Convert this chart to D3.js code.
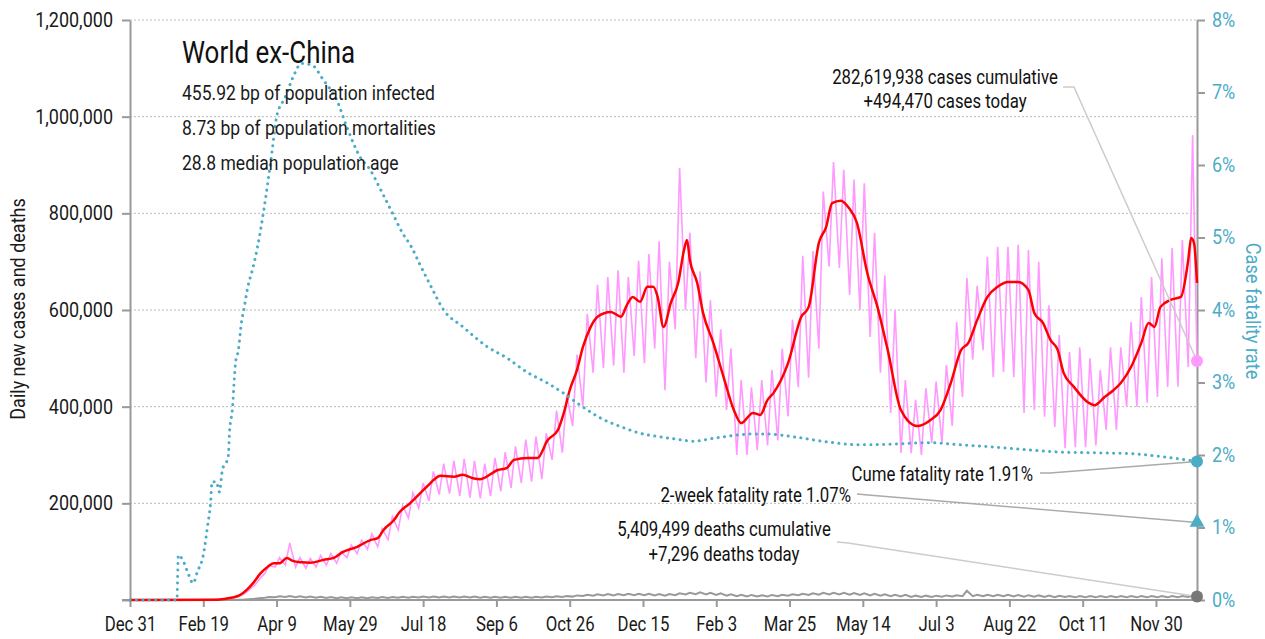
<!DOCTYPE html>
<html><head><meta charset="utf-8">
<script src="https://cdn.jsdelivr.net/npm/d3@7"></script>
<style>
body{margin:0;background:#fff;}
svg text{font-family:Roboto,"Liberation Sans",sans-serif;}
</style></head><body>
<svg id="chart" width="1265" height="639"></svg>
<script>
// ---------------- data ----------------
const startDate = new Date(2019, 11, 31);
const lastDay = 728;
const xTickDays = [0,50,100,150,200,250,300,350,400,450,500,550,600,650,700];
const leftTicks = [0,200000,400000,600000,800000,1000000,1200000];
const rightTicks = [0,1,2,3,4,5,6,7,8];

// 7-day average of daily new cases (thousands) at day offsets from Dec 31 2019
const avgDays = [0,60,64,70,75,80,84,89,94,98,102,107,111,117,123,132,139,145,155,164,169,173,180,184,191,198,205,207,212,221,227,234,239,251,257,262,271,278,285,292,296,300,305,309,314,319,328,335,339,343,348,353,357,360,364,369,374,378,380,382,387,391,398,405,412,417,425,430,435,439,449,458,463,470,475,479,485,490,496,503,510,517,526,537,546,553,560,567,572,578,585,592,599,606,613,617,623,628,633,637,644,654,658,665,671,676,683,690,695,699,703,710,717,722,724,726,728];
const avgCases = [0,0.5,2,5,10,22,35,55,69,76,76,87,81,78,77,83,87,99,110,124,128,145,165,182,200,221,242,248,257,255,259,252,250,269,273,290,294,294,331,352,387,434,476,523,563,586,596,586,610,627,617,648,648,627,565,615,656,724,745,703,656,594,532,461,393,366,387,383,414,428,490,586,606,739,772,821,826,813,780,677,606,517,393,360,372,393,449,517,532,579,627,648,658,658,641,594,573,538,517,470,441,408,403,420,434,449,482,532,573,565,606,621,627,703,749,738,656];

// daily new cases (thousands): weekly high and weekly low report, week 0..103
const weeklyHigh = [0,0,0,0.1,0.2,0.3,0.5,0.9,2,4,
  9,20,42,72,88,118,88,86,92,96,
  100,114,124,137,148,172,195,222,242,266,
  282,288,292,288,282,294,306,318,332,338,
  345,392,425,508,592,652,668,682,668,702,
  716,742,700,894,760,680,620,560,520,455,
  440,455,476,520,580,712,722,845,906,890,
  870,862,760,672,600,455,414,438,452,486,
  575,666,650,710,731,731,735,724,700,610,
  548,513,523,500,476,523,523,575,627,668,
  707,728,745,962];
const weeklyLow = [0,0,0,0,0.1,0.2,0.3,0.6,1.2,2.5,
  5,13,30,55,68,72,68,66,68,72,
  76,88,96,105,110,125,145,170,190,205,
  218,220,215,212,210,215,225,232,242,245,
  250,290,305,360,400,470,480,485,470,505,
  490,520,434,560,600,500,450,420,393,300,
  300,310,320,330,380,440,460,520,690,687,
  631,600,544,470,387,304,304,300,325,325,
  360,420,497,517,461,472,461,387,393,379,
  358,314,316,316,320,352,352,400,400,408,
  420,441,441,482];
const lastDayCases = 494.47;

// daily deaths (thousands): weekly high and low
const deathsHigh = [0,0,0,0,0,0,0,0,0,0.1,
  0.5,1.5,3.5,6,7.5,8,7.5,7,6.5,6,
  5.5,5.5,5.5,5.5,6,6,6.5,6.5,7,7,
  7,7,7,7,6.5,6.5,6.5,6.5,6.5,6.5,
  7,7.5,8,9.5,11,12,12.5,12.5,13,13,
  13,12.5,12.5,14,15,16,15,14,12,11,
  10.5,10,10.5,11,12,13,14,15,15,15,
  14.5,14,13,12,11,10.5,9,9,9,9.5,
  10,19,11,11,11,11,10.5,10,9.5,9,
  8.5,8,8,8,8,8,8,8,8,8,
  8,8,8,8.5];
const deathsLow = [0,0,0,0,0,0,0,0,0,0,
  0.2,0.8,2.5,4.5,5.5,6,5.5,5,4.5,4,
  3.8,3.8,3.8,3.8,4,4,4.5,4.5,5,5,
  5,5,5,5,4.5,4.5,4.5,4.5,4.5,4.5,
  5,5.5,6,7,8.5,9,9.5,9.5,10,10,
  10,9.5,9,10,11.5,12,11.5,10.5,9,8,
  7.5,7.5,7.5,8,9,10,10.5,11,11.5,11.5,
  11,10.5,9.5,9,8,7.5,6.5,6.5,6.5,7,
  7.5,8,8,8,8,8,7.5,7,7,6.5,
  6,6,5.5,5.5,5.5,5.5,5.5,5.5,5.5,5.5,
  5.5,5.5,5.5,6];
const lastDayDeaths = 7.296;

// cumulative case fatality rate (%)
const cfrDays = [0,32,33,36,40,43,46,50,53,55,56,59,61,63,67,68,70,71,72,74,76,78,80,84,87,91,94,97,100,106,111,117,124,132,141,148,157,164,171,179,186,192,198,205,214,227,244,257,271,285,296,307,321,335,348,362,376,384,398,412,425,435,453,476,498,521,544,567,589,613,635,658,681,703,728];
const cfrPct = [0,0,0.62,0.55,0.35,0.23,0.39,0.62,1.03,1.34,1.63,1.63,1.49,1.79,1.97,2.34,2.66,2.99,3.27,3.45,3.82,4.04,4.28,4.59,4.87,5.34,5.75,6.2,6.66,6.94,7.2,7.4,7.38,7.17,6.9,6.52,6.11,5.93,5.66,5.34,5.06,4.87,4.62,4.34,4.0,3.77,3.49,3.34,3.14,2.99,2.85,2.69,2.51,2.39,2.3,2.25,2.21,2.19,2.23,2.27,2.29,2.29,2.25,2.18,2.14,2.15,2.17,2.14,2.11,2.07,2.04,2.03,2.02,1.98,1.91];
const twoWeekCFR = 1.07;

const titleText = "World ex-China";
const statLines = ["455.92 bp of population infected","8.73 bp of population mortalities","28.8 median population age"];
const casesNote = ["282,619,938 cases cumulative","+494,470 cases today"];
const deathsNote = ["5,409,499 deaths cumulative","+7,296 deaths today"];
const cumeNote = "Cume fatality rate 1.91%";
const twoWeekNote = "2-week fatality rate 1.07%";

// ---------------- drawing ----------------
const svg = d3.select("#chart");
const day = d => d3.timeDay.offset(startDate, d);
const x = d3.scaleTime().domain([startDate, day(lastDay)]).range([130, 1197]);
const yL = d3.scaleLinear().domain([0, 1200000]).range([600, 20]);
const yR = d3.scaleLinear().domain([0, 8]).range([600, 20]);
const BLUE = "#4bacc6", PINK = "#ff99ff", RED = "#ff0000", GRAY = "#999";

// narrow text look: horizontal squeeze of each text element
function condense(sel, s) {
  sel.each(function() {
    const t = d3.select(this);
    const x0 = +t.attr("x") || 0;
    t.attr("x", x0 / s);
    t.attr("transform", (t.attr("transform") || "") + ` scale(${s},1)`);
  });
}
function label(px, py, txt, size, s, anchor, fill, rot) {
  return svg.append("text")
    .attr("transform", `translate(${px},${py})` + (rot ? ` rotate(${rot})` : "") + ` scale(${s},1)`)
    .attr("text-anchor", anchor).attr("font-size", size).attr("fill", fill).text(txt);
}

// gridlines
svg.append("g").selectAll("line").data(leftTicks.filter(d => d > 0)).join("line")
  .attr("x1", 130).attr("x2", 1197).attr("y1", d => yL(d)).attr("y2", d => yL(d))
  .attr("stroke", "#bbb").attr("stroke-width", 1).attr("stroke-dasharray", "2,2");

// axes
const axL = svg.append("g").attr("transform", "translate(130,0)")
  .call(d3.axisLeft(yL).tickValues(leftTicks).tickSize(8).tickSizeOuter(0).tickPadding(9)
    .tickFormat(d => d === 0 ? "" : d3.format(",")(d)));
const axR = svg.append("g").attr("transform", "translate(1197,0)")
  .call(d3.axisRight(yR).tickValues(rightTicks).tickSize(8).tickSizeOuter(0).tickPadding(7)
    .tickFormat(d => d + "%"));
const axX = svg.append("g").attr("transform", "translate(0,600)")
  .call(d3.axisBottom(x).tickValues(xTickDays.map(day)).tickSize(7).tickSizeOuter(0).tickPadding(10)
    .tickFormat(d3.timeFormat("%b %-d")));
[axL, axR, axX].forEach(a => {
  a.selectAll(".domain").attr("stroke", GRAY).attr("stroke-width", 2);
  a.selectAll(".tick line").attr("stroke", GRAY).attr("stroke-width", 2);
  a.selectAll("text").attr("font-size", 20).attr("fill", "#1a1a1a")
   .attr("font-family", 'Roboto,"Liberation Sans",sans-serif');
});
axR.selectAll("text").attr("fill", BLUE);
axX.select(".domain").attr("d", "M122,0H1197");
condense(axL.selectAll("text"), 0.9);
condense(axR.selectAll("text"), 0.9);
condense(axX.selectAll("text"), 0.84);

// axis titles
label(25, 309, "Daily new cases and deaths", 20, 0.9, "middle", "#1a1a1a", -90);
label(1246, 311, "Case fatality rate", 20, 0.91, "middle", BLUE, 90);

// deaths line
const deathPts = [];
deathsHigh.forEach((h, w) => { deathPts.push([7*w+1, deathsLow[w]]); deathPts.push([7*w+4, h]); });
deathPts.unshift([0, 0]); deathPts.push([lastDay, lastDayDeaths]);
svg.append("path").datum(deathPts)
  .attr("d", d3.line().x(d => x(day(d[0]))).y(d => yL(d[1]*1000)))
  .attr("fill", "none").attr("stroke", GRAY).attr("stroke-width", 2);

// daily cases
const casePts = [];
weeklyHigh.forEach((h, w) => { casePts.push([7*w+1, weeklyLow[w]]); casePts.push([7*w+4, h]); });
casePts.unshift([0, 0]); casePts.push([lastDay, lastDayCases]);
svg.append("path").datum(casePts)
  .attr("d", d3.line().x(d => x(day(d[0]))).y(d => yL(d[1]*1000)))
  .attr("fill", "none").attr("stroke", PINK).attr("stroke-width", 1.6);

// 7-day average
svg.append("path").datum(avgDays.map((d, i) => [d, avgCases[i]]))
  .attr("d", d3.line().curve(d3.curveMonotoneX).x(d => x(day(d[0]))).y(d => yL(d[1]*1000)))
  .attr("fill", "none").attr("stroke", RED).attr("stroke-width", 2.5);

// CFR
svg.append("path").datum(cfrDays.map((d, i) => [d, cfrPct[i]]))
  .attr("d", d3.line().curve(d3.curveMonotoneX).x(d => x(day(d[0]))).y(d => yR(d[1])))
  .attr("fill", "none").attr("stroke", BLUE).attr("stroke-width", 3)
  .attr("stroke-linecap", "round").attr("stroke-dasharray", "0.1,6.3");

// leader lines
const ex = x(day(lastDay));
const leader = (pts, col) => svg.append("path").attr("d", d3.line()(pts))
  .attr("fill", "none").attr("stroke", col).attr("stroke-width", 1.5);
leader([[1063, 87], [1074, 87], [ex, yL(lastDayCases*1000)]], "#ccc");
leader([[1040, 473], [1050, 473], [ex, yR(cfrPct[cfrPct.length-1])]], "#aaa");
leader([[857, 494], [868, 495], [ex, yR(twoWeekCFR)]], "#aaa");
leader([[837, 542], [848, 543], [ex, yL(lastDayDeaths*1000)]], "#ccc");

// end markers
svg.append("circle").attr("cx", ex).attr("cy", yL(lastDayCases*1000)).attr("r", 6).attr("fill", PINK);
svg.append("circle").attr("cx", ex).attr("cy", yR(cfrPct[cfrPct.length-1])).attr("r", 6).attr("fill", BLUE);
svg.append("path").attr("d", d3.symbol(d3.symbolTriangle, 95)())
  .attr("transform", `translate(${ex},${yR(twoWeekCFR)})`).attr("fill", BLUE);
svg.append("circle").attr("cx", ex).attr("cy", yL(lastDayDeaths*1000)).attr("r", 6).attr("fill", "#777");

// texts
label(182, 63, titleText, 30.5, 0.85, "start", "#111");
statLines.forEach((t, i) => label(182, 100 + i*35, t, 21, 0.835, "start", "#1a1a1a"));
casesNote.forEach((t, i) => label(945, 84 + i*24, t, 20, 0.84, "middle", "#111"));
label(1033, 481, cumeNote, 20, 0.84, "end", "#111");
label(851, 502, twoWeekNote, 20, 0.84, "end", "#111");
deathsNote.forEach((t, i) => label(724, 536 + i*25, t, 20, 0.84, "middle", "#111"));
</script>
</body></html>
